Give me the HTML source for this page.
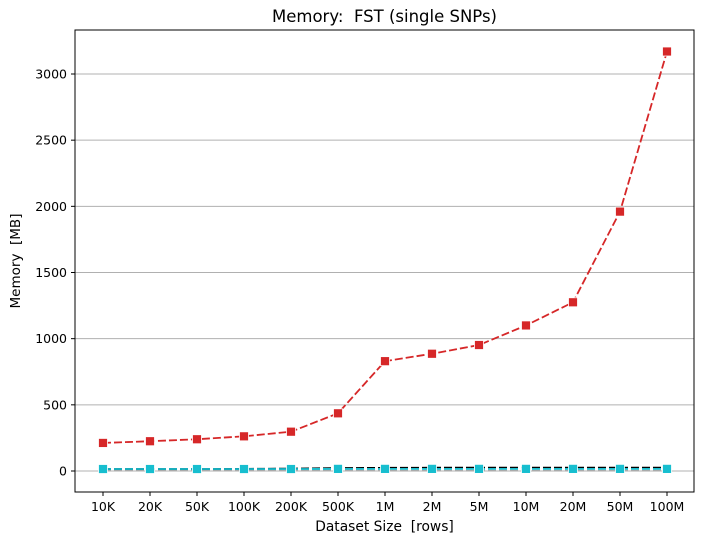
<!DOCTYPE html>
<html><head><meta charset="utf-8"><style>
body{margin:0;background:#fff;width:704px;height:543px;overflow:hidden;font-family:"DejaVu Sans",sans-serif}
text{white-space:pre}
</style></head><body>
<svg id="chart" width="704" height="543" font-family="DejaVu Sans, sans-serif"></svg>
<script>
const categories=["10K","20K","50K","100K","200K","500K","1M","2M","5M","10M","20M","50M","100M"];
const redValues=[212,225,240,262,297,436,830,886,952,1100,1275,1960,3170];
const blackValues=[15,15,15,16,18,22,24,25,25,25,25,25,25];
const greyValues=[5,5,5,5,5,5,3,3,3,3,3,3,3];
const cyanValues=[15,15,15,15,15,16,16,16,16,16,16,16,16];
const yTicks=[0,500,1000,1500,2000,2500,3000];
const NS="http://www.w3.org/2000/svg";
const svg=document.getElementById('chart');
const L=75,R=694,T=30,B=492;
const x=i=>103+i*47;
const y=v=>471-v*(397/3000);
function el(t,a,p){const e=document.createElementNS(NS,t);for(const k in a)e.setAttribute(k,a[k]);(p||svg).appendChild(e);return e;}
yTicks.forEach(v=>{
 const g=el('line',{x1:L,x2:R,y1:y(v),y2:y(v),stroke:'#b0b0b0','stroke-width':1});
 
 
 el('line',{x1:L-4,x2:L,y1:y(v),y2:y(v),stroke:'#000'});
 const t=el('text',{x:L-8,y:y(v)+4.5,'text-anchor':'end','font-size':12.5});
 t.textContent=v;
 
 
});
categories.forEach((c,i)=>{
 el('line',{x1:x(i),x2:x(i),y1:B,y2:B+4,stroke:'#000'});
 const t=el('text',{x:x(i),y:B+19,'text-anchor':'middle','font-size':12.5});
 t.textContent=c;
 
 
});
function series(vals,color,dash,name,marker,width){
 const p=el('polyline',{points:vals.map((v,i)=>x(i)+','+y(v)).join(' '),fill:'none',stroke:color,'stroke-width':width||1.5,'stroke-dasharray':dash});
 
 
 if(marker) vals.forEach((v,i)=>{
  const r=el('rect',{x:x(i)-4.5,y:y(v)-4.5,width:9,height:9,fill:color,stroke:'#fff','stroke-width':0.8});
  
  
 });
}
series(greyValues,'#aaaaaa','8 3','grey-series',false,1.8);
series(blackValues,'#000','8 3','black-series',false,1.8);
series(cyanValues,'#17becf','8 3','cyan-series',true,1.8);
series(redValues,'#d62728','8 3','red-series',true,1.8);
const f=el('rect',{x:L,y:T,width:R-L,height:B-T,fill:'none',stroke:'#000','stroke-width':1});


const ti=el('text',{x:(L+R)/2,y:22,'text-anchor':'middle','font-size':16.5});
ti.textContent='Memory:  FST (single SNPs)';


const xl=el('text',{x:(L+R)/2,y:531,'text-anchor':'middle','font-size':13.8});
xl.textContent='Dataset Size  [rows]';


const yl=el('text',{x:20,y:(T+B)/2,'text-anchor':'middle','font-size':13.5,transform:'rotate(-90 20 '+(T+B)/2+')'});
yl.textContent='Memory  [MB]';


</script>
</body></html>
